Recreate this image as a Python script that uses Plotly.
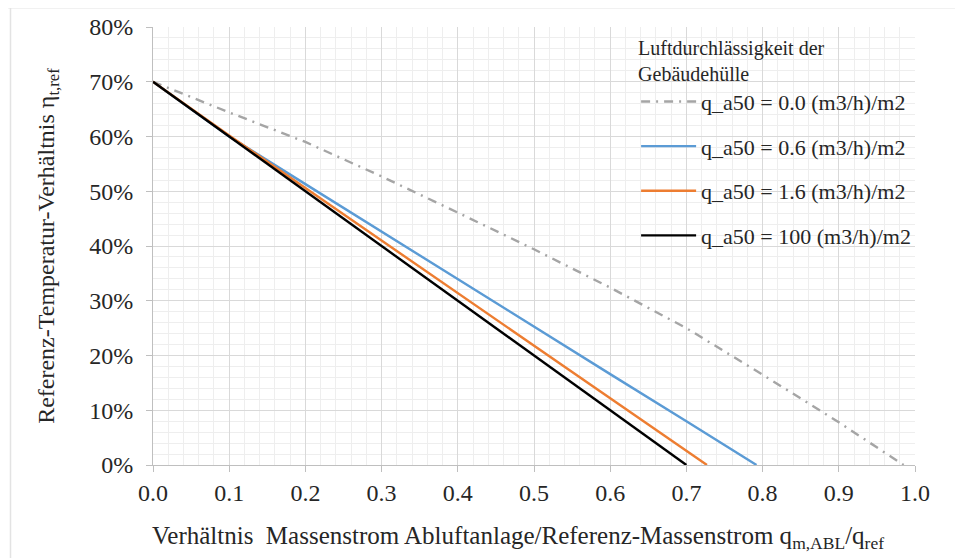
import plotly.graph_objects as go

# Data
x_gray = [0.0, 0.1, 0.2, 0.3, 0.4, 0.5, 0.6, 0.7, 0.8, 0.9, 0.985]
y_gray = [0.70, 0.644, 0.590, 0.527, 0.461, 0.394, 0.324, 0.250, 0.165, 0.078, 0.0]

x_blue = [0.0, 0.1, 0.2, 0.3, 0.4, 0.5, 0.6, 0.7, 0.792]
y_blue = [0.70, 0.600, 0.513, 0.426, 0.340, 0.253, 0.166, 0.080, 0.0]

x_orange = [0.0, 0.1, 0.2, 0.3, 0.4, 0.5, 0.6, 0.727]
y_orange = [0.70, 0.602, 0.506, 0.410, 0.314, 0.218, 0.122, 0.0]

x_black = [0.0, 0.1, 0.2, 0.3, 0.4, 0.5, 0.6, 0.70]
y_black = [0.70, 0.60, 0.50, 0.40, 0.30, 0.20, 0.10, 0.0]

names = ["q_a50 = 0.0 (m3/h)/m2", "q_a50 = 0.6 (m3/h)/m2",
         "q_a50 = 1.6 (m3/h)/m2", "q_a50 = 100 (m3/h)/m2"]

x_ticks = [0.0, 0.1, 0.2, 0.3, 0.4, 0.5, 0.6, 0.7, 0.8, 0.9, 1.0]
y_ticks = [0.0, 0.1, 0.2, 0.3, 0.4, 0.5, 0.6, 0.7, 0.8]

x_title = "Verhältnis  Massenstrom Abluftanlage/Referenz-Massenstrom q<sub>m,ABL</sub>/q<sub>ref</sub>"
y_title = "Referenz-Temperatur-Verhältnis η<sub>t,ref</sub>"
legend_title = "Luftdurchlässigkeit der<br>Gebäudehülle"

FONT = "Liberation Serif, Times New Roman, serif"
TXT = "#262626"

fig = go.Figure()
series = [
    (x_gray, y_gray, "#a5a5a5", "9px,6px,2px,6px", 2.4),
    (x_blue, y_blue, "#5b9bd5", "solid", 2.4),
    (x_orange, y_orange, "#ed7d31", "solid", 2.4),
    (x_black, y_black, "#000000", "solid", 2.4),
]
for i, (xs, ys, col, dash, w) in enumerate(series):
    fig.add_trace(go.Scatter(
        x=xs, y=ys, mode="lines", name=names[i], legendgroup=f"g{i}",
        line=dict(color=col, dash=dash, width=w),
    ))

fig.update_layout(
    width=955, height=550,
    margin=dict(l=145, r=48, t=19, b=93),
    paper_bgcolor="white", plot_bgcolor="white",
    font=dict(family=FONT, size=22, color=TXT),
    showlegend=True,
    legend=dict(
        title=dict(text=legend_title,
                   font=dict(family=FONT, size=20, color=TXT), side="top"),
        x=0.634, y=0.996, xanchor="left", yanchor="top",
        bgcolor="rgba(0,0,0,0)", borderwidth=0,
        font=dict(family=FONT, size=22, color=TXT),
        tracegroupgap=13, itemwidth=55,
    ),
    xaxis=dict(
        range=[0, 1], tickvals=x_ticks, tickformat=".1f",
        showgrid=True, gridcolor="#d9d9d9", gridwidth=1,
        minor=dict(dtick=0.02, showgrid=True, gridcolor="#eeeeee", gridwidth=1),
        showline=True, linecolor="#bfbfbf", linewidth=1,
        ticks="outside", ticklen=6, tickcolor="#bfbfbf",
        zeroline=False, automargin=False,
        tickfont=dict(family=FONT, size=24, color=TXT),
    ),
    yaxis=dict(
        range=[0, 0.8], tickvals=y_ticks, tickformat=".0%",
        showgrid=True, gridcolor="#d9d9d9", gridwidth=1,
        minor=dict(dtick=0.02, showgrid=True, gridcolor="#eeeeee", gridwidth=1),
        showline=True, linecolor="#bfbfbf", linewidth=1,
        ticks="outside", ticklen=6, tickcolor="#bfbfbf",
        ticklabelstandoff=8,
        zeroline=False, automargin=False,
        tickfont=dict(family=FONT, size=24, color=TXT),
    ),
    annotations=[
        dict(text=x_title, xref="paper", yref="paper", x=0.479, y=-0.165,
             xanchor="center", yanchor="middle", showarrow=False,
             font=dict(family=FONT, size=25, color=TXT)),
        dict(text=y_title, xref="paper", yref="paper", x=-0.138, y=0.5,
             xanchor="center", yanchor="middle", showarrow=False, textangle=-90,
             font=dict(family=FONT, size=24, color=TXT)),
    ],
    shapes=[
        dict(type="line", xref="paper", yref="paper", x0=-0.19, x1=1.07, y0=1.044, y1=1.044,
             line=dict(color="#e3e3e3", width=1.5), layer="below"),
        dict(type="line", xref="paper", yref="paper", x0=-0.187, x1=-0.187, y0=1.044, y1=-0.215,
             line=dict(color="#e3e3e3", width=1.5), layer="below"),
    ],
)

fig.write_html("out.html")
